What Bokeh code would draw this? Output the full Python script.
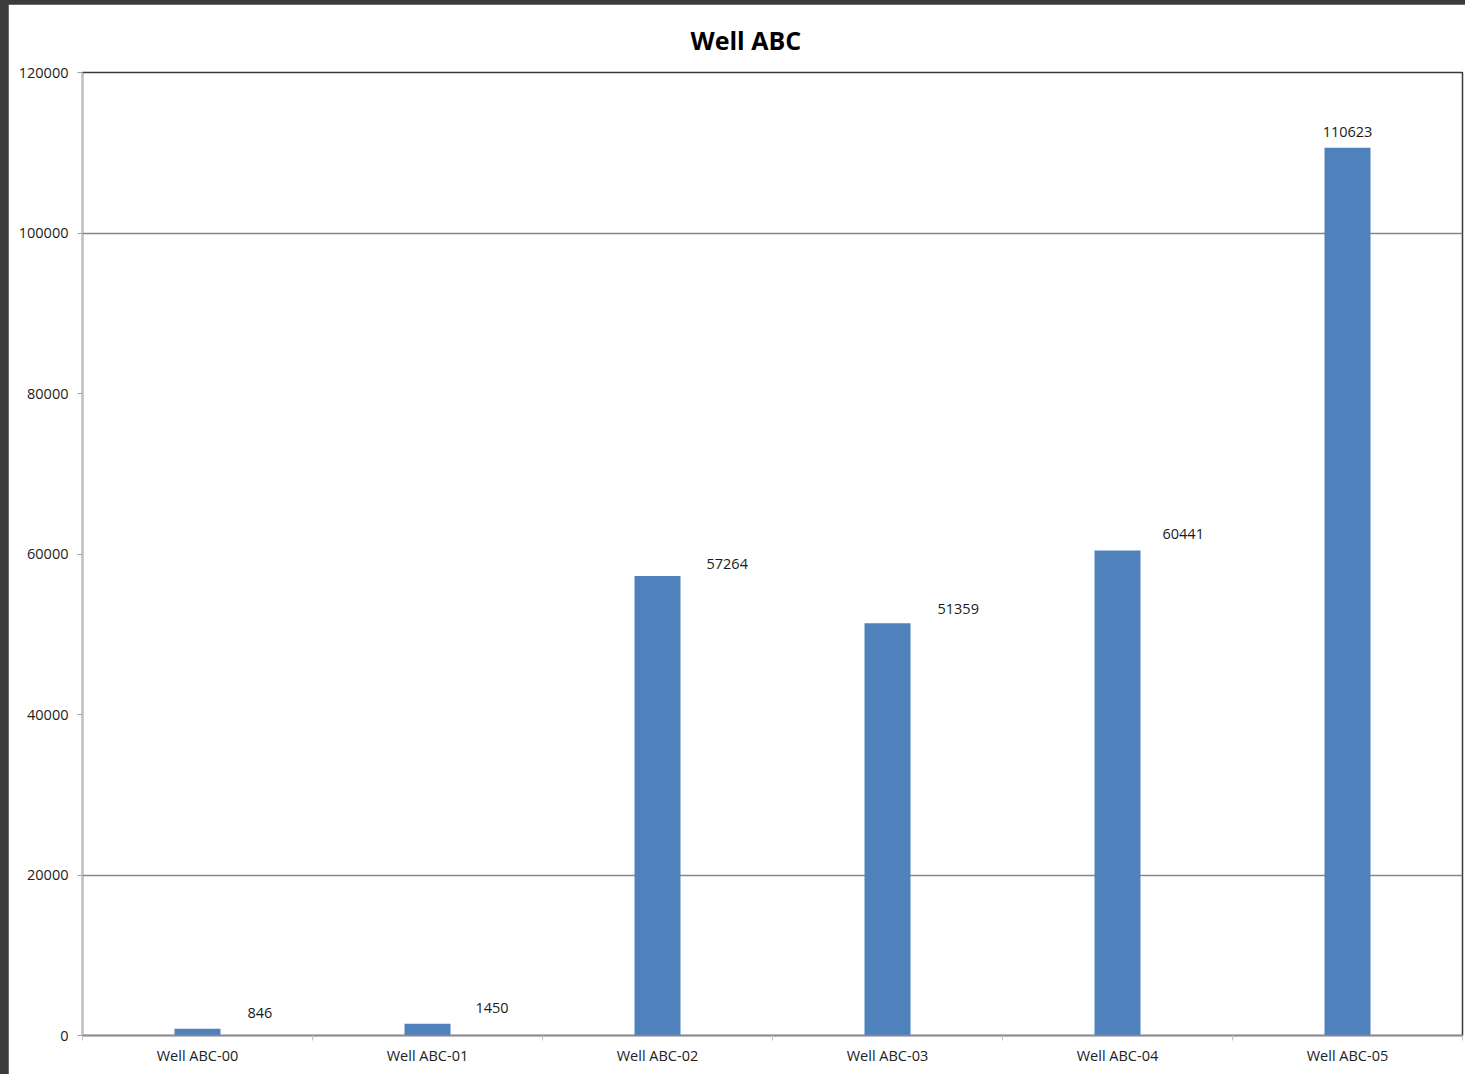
from bokeh.plotting import figure
from bokeh.models import Range1d, FixedTicker, ColumnDataSource
from bokeh.layouts import column
from bokeh.core.properties import value
from bokeh.embed import file_html
from bokeh.resources import INLINE

# ---- data ----
categories = ["Well ABC-00", "Well ABC-01", "Well ABC-02", "Well ABC-03", "Well ABC-04", "Well ABC-05"]
values = [846, 1450, 57264, 51359, 60441, 110623]
y_ticks = [0, 20000, 40000, 60000, 80000, 100000, 120000]

# ---- layout / style helpers (not data) ----
label_dx = [50, 48, 49, 50, 45, 0]      # pixel offset of data labels from bar centre
label_dy = [-11, -11, -7, -9, -11, -11]  # pixel offset above bar top
label_align = ["left", "left", "left", "left", "left", "center"]

xs = [i + 0.5 for i in range(len(categories))]
src = ColumnDataSource(dict(
    x=xs, top=values, txt=[str(v) for v in values],
    dx=label_dx, dy=label_dy, align=label_align,
))

FONT = "Open Sans"

p = figure(width=1457, height=1070, output_backend="svg", toolbar_location=None,
           x_range=Range1d(0, len(categories)), y_range=Range1d(y_ticks[0], y_ticks[-1]),
           title="Well ABC")
p.min_border_left = 74
p.min_border_right = 3
p.min_border_top = 68
p.min_border_bottom = 39
p.background_fill_color = "white"
p.border_fill_color = "white"
p.outline_line_color = "#3a3a3a"
p.outline_line_width = 1.5

p.title.text_font = FONT
p.title.text_font_size = "25px"
p.title.text_font_style = "bold"
p.title.text_color = "black"
p.title.align = "left"
p.title.offset = 608
p.title.standoff = 31

p.vbar(x="x", top="top", width=0.2, source=src, color="#4F81BD", line_color=None)

p.text(x="x", y="top", text="txt", source=src, x_offset="dx", y_offset="dy",
       text_align="align", text_baseline="bottom",
       text_font=value(FONT), text_font_size="14.5px", text_color="#1a1a1a")

# y axis
p.yaxis.ticker = FixedTicker(ticks=y_ticks)
p.yaxis.axis_line_color = "#c0c0c0"
p.yaxis.major_tick_line_color = "#a0a0a0"
p.yaxis.major_tick_out = 5
p.yaxis.major_tick_in = 0
p.yaxis.minor_tick_line_color = None
p.yaxis.major_label_standoff = 9
p.yaxis.major_label_text_font = FONT
p.yaxis.major_label_text_font_size = "14.5px"
p.yaxis.major_label_text_color = "#222222"
p.yaxis.formatter.use_scientific = False

# x axis: labels at centres, small ticks at category boundaries
p.xaxis.ticker = FixedTicker(ticks=xs, minor_ticks=list(range(len(categories) + 1)))
p.xaxis.major_label_overrides = {x: c for x, c in zip(xs, categories)}
p.xaxis.major_tick_line_color = None
p.xaxis.minor_tick_line_color = "#c0c0c0"
p.xaxis.minor_tick_out = 5
p.xaxis.minor_tick_in = 0
p.xaxis.axis_line_color = "#8c8c8c"
p.xaxis.axis_line_width = 1.5
p.xaxis.major_label_standoff = 4
p.xaxis.major_label_text_font = FONT
p.xaxis.major_label_text_font_size = "14.5px"
p.xaxis.major_label_text_color = "#222222"

p.xgrid.grid_line_color = None
p.ygrid.ticker = FixedTicker(ticks=[20000, 100000])
p.ygrid.grid_line_color = "#868686"
p.ygrid.grid_line_width = 1.5

layout = column(p, styles={"background-color": "#3b3b3b", "padding-left": "8px", "padding-top": "4px"})

open("out.html", "w").write(file_html(layout, INLINE))
